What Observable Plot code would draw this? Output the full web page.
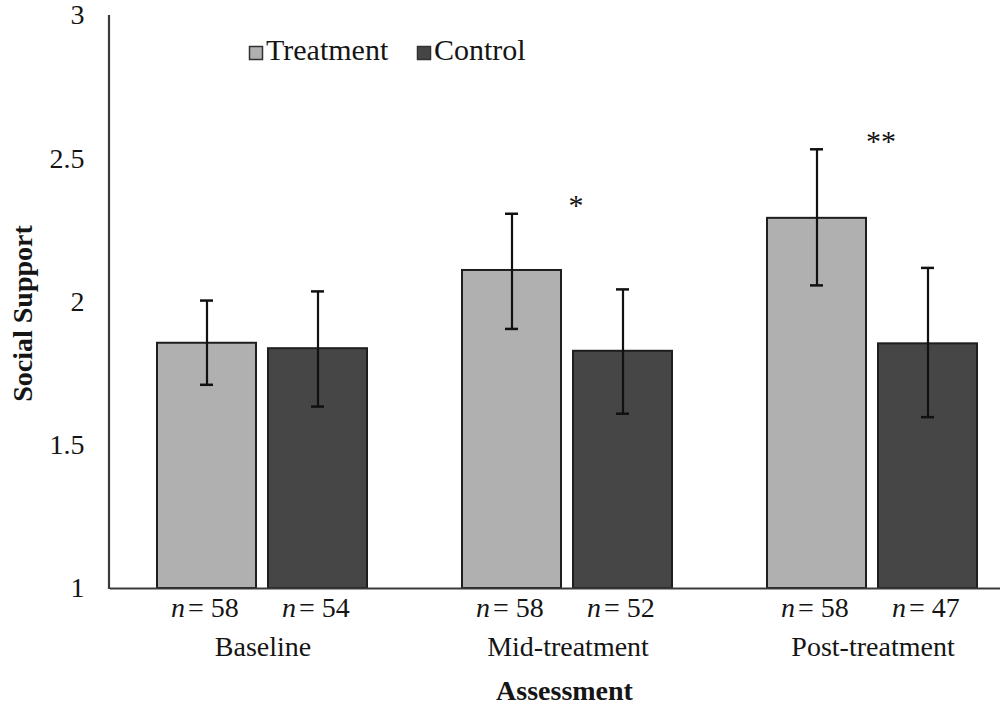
<!DOCTYPE html>
<html>
<head>
<meta charset="utf-8">
<script src="https://cdn.jsdelivr.net/npm/d3@7"></script>
<script src="https://cdn.jsdelivr.net/npm/@observablehq/plot@0.6"></script>
<style>
  html, body { margin: 0; padding: 0; background: white; }
  #chart { width: 1000px; height: 707px; overflow: hidden; }
</style>
</head>
<body>
<div id="chart"></div>
<script>
const groups = ["Baseline", "Mid-treatment", "Post-treatment"];
const series = ["Treatment", "Control"];
const treatmentMean = [1.856, 2.110, 2.292];
const treatmentLower = [1.711, 1.906, 2.058];
const treatmentUpper = [2.005, 2.308, 2.533];
const controlMean = [1.837, 1.828, 1.854];
const controlLower = [1.635, 1.610, 1.598];
const controlUpper = [2.037, 2.044, 2.119];
const treatmentN = [58, 58, 58];
const controlN = [54, 52, 47];
const significance = ["", "*", "**"];
const yTicks = [1, 1.5, 2, 2.5, 3];

const rows = [];
groups.forEach((g, i) => {
  rows.push({group: g, series: "Treatment", mean: treatmentMean[i], lower: treatmentLower[i], upper: treatmentUpper[i], n: treatmentN[i]});
  rows.push({group: g, series: "Control", mean: controlMean[i], lower: controlLower[i], upper: controlUpper[i], n: controlN[i]});
});
const sigRows = groups.map((g, i) => ({
  group: g, text: significance[i],
  top: Math.max(treatmentUpper[i], controlUpper[i])
})).filter(d => d.text);

const serif = "'Liberation Serif', 'Times New Roman', serif";
const colors = ["#b0b0b0", "#464646"];

const chart = Plot.plot({
  width: 1000,
  height: 707,
  marginLeft: 109,
  marginRight: 0,
  marginTop: 15,
  marginBottom: 119,
  style: {fontFamily: serif, fontSize: "28px", color: "#151515", background: "white"},
  fx: {domain: groups, range: [109, 1026], padding: 0, label: null},
  x: {domain: series, paddingInner: 0.107, paddingOuter: 0.418, axis: null},
  y: {domain: [1, 3], label: null},
  color: {domain: series, range: colors},
  marks: [
    Plot.axisY({ticks: yTicks, tickSize: 0, tickPadding: 26, tickFormat: d => String(d), label: null, fontSize: 28}),
    Plot.axisFx({anchor: "bottom", tickSize: 0, tickPadding: 48, label: null, fontSize: 28}),
    Plot.barY(rows, {fx: "group", x: "series", y1: d => 1, y2: "mean", fill: "series", stroke: "#1e1e1e", strokeWidth: 2}),
    Plot.ruleX(rows, {fx: "group", x: "series", y1: "lower", y2: "upper", stroke: "#111", strokeWidth: 2.2}),
    Plot.tickY(rows, {fx: "group", x: "series", y: "upper", insetLeft: 43, insetRight: 43, stroke: "#111", strokeWidth: 2.5}),
    Plot.tickY(rows, {fx: "group", x: "series", y: "lower", insetLeft: 43, insetRight: 43, stroke: "#111", strokeWidth: 2.5}),
    Plot.ruleY([1], {stroke: "#3a3a3a", strokeWidth: 2.2}),
    Plot.text(rows, {fx: "group", x: "series", y: d => 1, text: d => "n", fontStyle: "italic", textAnchor: "end", dx: -22, dy: 20, fontSize: 28, fill: "#151515"}),
    Plot.text(rows, {fx: "group", x: "series", y: d => 1, text: d => "= " + d.n, textAnchor: "start", dx: -19, dy: 20, fontSize: 28, fill: "#151515"}),
    Plot.text(sigRows, {fx: "group", y: "top", text: "text", dx: 8, dy: -8, fontSize: 30, fill: "#111"})
  ]
});

document.getElementById("chart").appendChild(chart);

const svg = d3.select(chart);
const yScale = chart.scale("y");
const fxScale = chart.scale("fx");
const yTop = yScale.apply(3), yBottom = yScale.apply(1);

// vertical y axis line
svg.append("line")
  .attr("x1", 109).attr("x2", 109)
  .attr("y1", yTop).attr("y2", yBottom + 1)
  .attr("stroke", "#3a3a3a").attr("stroke-width", 2.2);

// axis titles
svg.append("text")
  .attr("transform", `translate(22,${(yTop + yBottom) / 2 + 12}) rotate(-90)`)
  .attr("text-anchor", "middle").attr("dy", "0.35em")
  .attr("font-family", serif).attr("font-size", 28).attr("font-weight", "bold")
  .attr("fill", "#151515")
  .text("Social Support");

svg.append("text")
  .attr("x", (fxScale.range[0] + fxScale.range[1]) / 2 - 3).attr("y", 700)
  .attr("text-anchor", "middle")
  .attr("font-family", serif).attr("font-size", 28).attr("font-weight", "bold")
  .attr("fill", "#151515")
  .text("Assessment");

// legend
const legendItems = [{label: series[0], color: colors[0], x: 249}, {label: series[1], color: colors[1], x: 417}];
const lg = svg.append("g");
legendItems.forEach(it => {
  lg.append("rect").attr("x", it.x + 0.5).attr("y", 46.5).attr("width", 13).attr("height", 13)
    .attr("fill", it.color).attr("stroke", "#333").attr("stroke-width", 1.5);
  lg.append("text").attr("x", it.x + 17).attr("y", 60)
    .attr("text-anchor", "start")
    .attr("font-family", serif).attr("font-size", 30).attr("fill", "#151515")
    .text(it.label);
});
</script>
</body>
</html>
